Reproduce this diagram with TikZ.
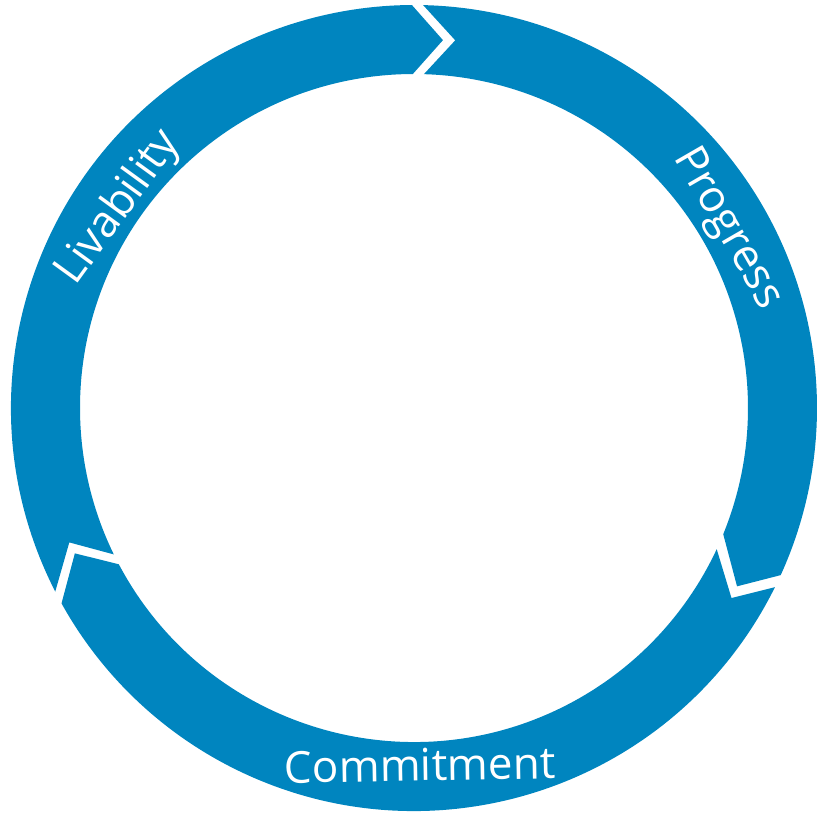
\documentclass[tikz,border=0pt]{standalone}
\usepackage{fontspec}
\setmainfont{Open Sans}
\definecolor{ringblue}{HTML}{0085BF}
\begin{document}
\begin{tikzpicture}[x=1pt,y=1pt,
  seg/.style={fill=ringblue,draw=none},
  lbl/.style={text=white,font=\fontsize{44}{50}\selectfont,inner sep=0pt}]
\useasboundingbox (-414,-405) rectangle (404,408);
% Livability segment (from left joint, clockwise to top joint)
\path[seg] (207.1:403) arc[start angle=207.1, end angle=90.3, radius=403]
  -- (85.5:369) -- (90.2:334) arc[start angle=90.2, end angle=206, radius=334]
  -- (201.3:370) -- cycle;
% Progress segment
\path[seg] (88.7:403) arc[start angle=88.7, end angle=-24.5, radius=403]
  -- (-28.9:369) -- (-22.2:334) arc[start angle=-22.2, end angle=88.3, radius=334]
  -- (83.6:370) -- cycle;
% Commitment segment
\path[seg] (-26.4:403) arc[start angle=-26.4, end angle=-151, radius=403]
  -- (-156.8:369) -- (-152.1:334) arc[start angle=-152.1, end angle=-25.0, radius=334]
  -- (-30.9:370) -- cycle;
\node[lbl,rotate=54] (liv) at (-295,200) {Livability};
\node[lbl,rotate=-60] (prog) at (313,179) {Progress};
\node[lbl,rotate=1] (com) at (6,-357) {Commitment};
\end{tikzpicture}
\end{document}
